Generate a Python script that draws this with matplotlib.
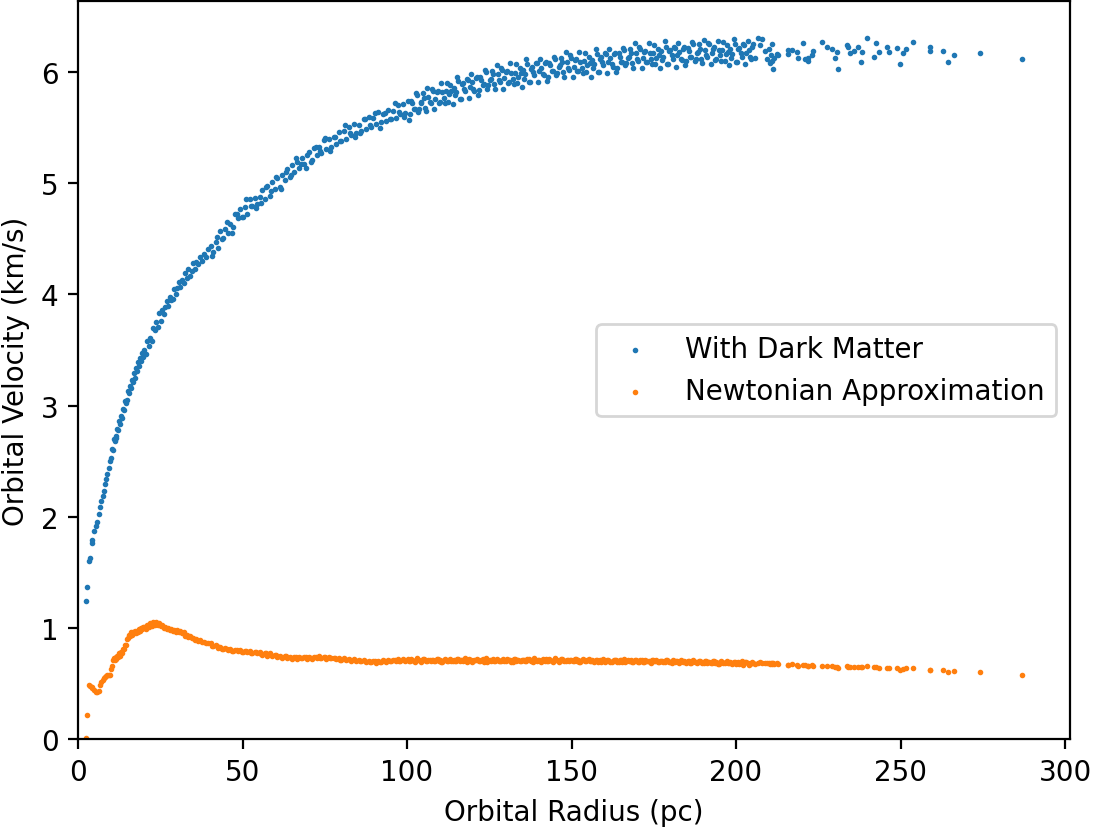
import matplotlib
matplotlib.use("Agg")
import matplotlib.pyplot as plt

# ---- data (radius in pc, velocities in km/s) ----
radius_inner = [2.3, 2.6, 3.4, 3.6, 4.2, 4.4, 5.0, 5.6, 5.9, 6.4,
                6.8, 7.1, 7.5, 7.8, 8.2, 8.6, 8.9, 9.3, 9.6, 9.9]
dark_inner = [1.24, 1.37, 1.60, 1.63, 1.76, 1.79, 1.87, 1.92, 1.95, 2.02,
              2.09, 2.14, 2.19, 2.23, 2.29, 2.34, 2.38, 2.44, 2.50, 2.53]
newton_inner = [0.01, 0.22, 0.49, 0.48, 0.47, 0.46, 0.44, 0.42, 0.42, 0.43,
                0.49, 0.51, 0.53, 0.55, 0.56, 0.57, 0.58, 0.58, 0.58, 0.63]

radius_rise = [10.2, 10.5, 10.8, 11.1, 11.4, 11.7, 12.0, 12.3, 12.6, 12.9,
               13.2, 13.5, 13.8, 14.1, 14.4, 14.7, 15.0, 15.3, 15.6, 15.9,
               16.2, 16.5, 16.8, 17.1, 17.4, 17.7, 18.0, 18.3, 18.6, 18.9,
               19.2, 19.5, 19.8]
dark_rise = [2.61, 2.60, 2.70, 2.68, 2.73, 2.71, 2.79, 2.78, 2.86, 2.83,
             2.91, 2.89, 2.97, 2.96, 3.04, 3.02, 3.05, 3.13, 3.11, 3.18,
             3.16, 3.23, 3.21, 3.29, 3.25, 3.34, 3.31, 3.39, 3.36, 3.43,
             3.40, 3.47, 3.44]
newton_rise = [0.66, 0.71, 0.73, 0.71, 0.74, 0.72, 0.75, 0.74, 0.77, 0.75,
               0.78, 0.77, 0.81, 0.81, 0.85, 0.85, 0.90, 0.91, 0.94, 0.93,
               0.96, 0.94, 0.96, 0.95, 0.97, 0.95, 0.97, 0.96, 0.99, 0.97,
               1.00, 0.99, 1.01]

radius_peak = [20.1, 20.6, 21.0, 21.5, 22.0, 22.4, 22.9, 23.3, 23.8, 24.2,
               24.7, 25.1, 25.6, 26.0, 26.5, 27.0, 27.4, 27.9, 28.3, 28.8,
               29.3, 29.7, 30.2, 30.7, 31.1, 31.6, 32.1, 32.6, 33.0, 33.5,
               34.0, 34.5, 35.0, 35.5, 36.0, 36.6, 37.2, 37.8, 38.4, 39.0,
               39.6]
dark_peak = [3.50, 3.46, 3.58, 3.54, 3.61, 3.58, 3.70, 3.68, 3.75, 3.71,
             3.83, 3.76, 3.86, 3.82, 3.89, 3.94, 3.90, 3.98, 3.95, 3.96,
             4.05, 4.00, 4.06, 4.11, 4.07, 4.13, 4.10, 4.19, 4.15, 4.23,
             4.17, 4.21, 4.28, 4.23, 4.29, 4.27, 4.34, 4.30, 4.36, 4.34,
             4.41]
newton_peak = [1.01, 0.99, 1.03, 1.01, 1.04, 1.02, 1.05, 1.03, 1.05, 1.03,
               1.04, 1.02, 1.03, 1.00, 1.01, 0.99, 1.00, 0.98, 0.99, 0.97,
               0.98, 0.96, 0.98, 0.96, 0.97, 0.95, 0.96, 0.93, 0.94, 0.92,
               0.93, 0.91, 0.91, 0.89, 0.90, 0.88, 0.89, 0.87, 0.87, 0.86,
               0.86]

radius_mid = [40.3, 41.0, 41.8, 42.5, 43.3, 44.0, 44.8, 45.5, 46.3, 47.0,
              47.8, 48.5, 49.3, 50.0, 50.8, 51.5, 52.3, 53.0, 53.8, 54.5,
              55.3, 56.0, 56.8, 57.5, 58.3, 59.0, 59.8, 60.5, 61.3, 62.0,
              62.8, 63.5, 64.3, 65.0, 65.8, 66.5, 67.3, 68.0, 68.8, 69.5,
              70.3, 71.0, 71.8, 72.5, 73.3, 74.0, 74.8, 75.5, 76.3, 77.0,
              77.8, 78.5, 79.3, 80.0, 80.8, 81.5, 82.3, 83.0, 83.8, 84.5,
              85.3, 86.0, 86.8, 87.5, 88.3, 89.0, 89.8, 90.5, 91.3, 92.0,
              92.8, 93.5, 94.3, 95.0, 95.8, 96.5, 97.3, 98.0, 98.8, 99.5]
dark_mid = [4.44, 4.38, 4.47, 4.42, 4.57, 4.51, 4.59, 4.55, 4.63, 4.61,
            4.72, 4.69, 4.77, 4.70, 4.79, 4.72, 4.86, 4.80, 4.87, 4.81,
            4.88, 4.94, 4.86, 4.98, 4.89, 5.01, 4.95, 5.05, 4.97, 5.07,
            5.03, 5.13, 5.06, 5.16, 5.10, 5.19, 5.14, 5.23, 5.17, 5.25,
            5.28, 5.21, 5.32, 5.25, 5.33, 5.27, 5.39, 5.31, 5.40, 5.33,
            5.42, 5.35, 5.46, 5.38, 5.47, 5.40, 5.51, 5.43, 5.53, 5.45,
            5.52, 5.47, 5.58, 5.49, 5.60, 5.51, 5.59, 5.53, 5.64, 5.55,
            5.62, 5.56, 5.66, 5.58, 5.65, 5.59, 5.70, 5.62, 5.71, 5.63]
newton_mid = [0.86, 0.84, 0.85, 0.82, 0.83, 0.81, 0.82, 0.80, 0.81, 0.79,
              0.80, 0.79, 0.80, 0.78, 0.79, 0.78, 0.79, 0.77, 0.78, 0.77,
              0.78, 0.76, 0.77, 0.75, 0.77, 0.75, 0.76, 0.74, 0.75, 0.73,
              0.75, 0.73, 0.74, 0.72, 0.74, 0.72, 0.74, 0.73, 0.74, 0.72,
              0.74, 0.72, 0.74, 0.73, 0.75, 0.73, 0.74, 0.72, 0.74, 0.73,
              0.73, 0.72, 0.73, 0.71, 0.73, 0.71, 0.72, 0.70, 0.72, 0.70,
              0.71, 0.70, 0.71, 0.69, 0.70, 0.69, 0.70, 0.68, 0.70, 0.69,
              0.71, 0.69, 0.71, 0.70, 0.71, 0.70, 0.72, 0.70, 0.72, 0.70]

radius_mid2 = [40.7, 42.2, 43.7, 45.2, 46.7, 48.2, 49.7, 51.2, 52.7, 54.2,
               55.7, 57.2, 58.7, 60.2, 61.7, 63.2, 64.7, 66.2, 67.7, 69.2,
               70.7, 72.2, 73.7, 75.2, 76.7, 78.2, 79.7, 81.2, 82.7, 84.2,
               85.7, 87.2, 88.7, 90.2, 91.7, 93.2, 94.7, 96.2, 97.7, 99.2]
dark_mid2 = [4.35, 4.52, 4.50, 4.65, 4.55, 4.72, 4.70, 4.86, 4.80, 4.78,
             4.82, 4.97, 4.93, 5.06, 4.95, 5.10, 5.07, 5.23, 5.17, 5.14,
             5.19, 5.33, 5.29, 5.41, 5.29, 5.42, 5.38, 5.52, 5.45, 5.42,
             5.45, 5.58, 5.52, 5.63, 5.50, 5.63, 5.58, 5.72, 5.64, 5.60]
newton_mid2 = [0.84, 0.835, 0.81, 0.81, 0.795, 0.80, 0.785, 0.79, 0.775, 0.78,
               0.765, 0.77, 0.755, 0.755, 0.74, 0.745, 0.73, 0.735, 0.725, 0.735,
               0.725, 0.735, 0.73, 0.74, 0.725, 0.73, 0.715, 0.72, 0.71, 0.715,
               0.70, 0.705, 0.695, 0.70, 0.695, 0.705, 0.70, 0.71, 0.705, 0.715]

radius_outer = [100.2, 100.9, 101.6, 102.3, 103.0, 103.7, 104.4, 105.1, 105.8, 106.5,
                107.2, 107.9, 108.6, 109.3, 110.0, 110.7, 111.4, 112.1, 112.8, 113.5,
                114.2, 114.9, 115.6, 116.3, 117.0, 117.7, 118.4, 119.1, 119.8, 120.5,
                121.2, 121.9, 122.6, 123.3, 124.0, 124.7, 125.4, 126.1, 126.8, 127.5,
                128.2, 128.9, 129.6, 130.3, 131.0, 131.7, 132.4, 133.1, 133.8, 134.5,
                135.2, 135.9, 136.6, 137.3, 138.0, 138.7, 139.4, 140.1, 140.8, 141.5,
                142.2, 142.9, 143.6, 144.3, 145.0, 145.7, 146.4, 147.1, 147.8, 148.5,
                149.2, 149.9, 150.6, 151.3, 152.0, 152.7, 153.4, 154.1, 154.8, 155.5,
                156.2, 156.9, 157.6, 158.3, 159.0, 159.7, 160.4, 161.1, 161.8, 162.5,
                163.2, 163.9, 164.6, 165.3, 166.0, 166.7, 167.4, 168.1, 168.8, 169.5,
                170.2, 170.9, 171.6, 172.3, 173.0, 173.7, 174.4, 175.1, 175.8, 176.5,
                177.2, 177.9, 178.6, 179.3, 180.0, 180.7, 181.4, 182.1, 182.8, 183.5,
                184.2, 184.9, 185.6, 186.3, 187.0, 187.7, 188.4, 189.1, 189.8, 190.5,
                191.2, 191.9, 192.6, 193.3, 194.0, 194.7, 195.4, 196.1, 196.8, 197.5,
                198.2, 198.9, 199.6, 200.3, 201.0, 201.7, 202.4, 203.1, 203.8, 204.5,
                205.2, 205.9, 206.6]
dark_outer = [5.74, 5.62, 5.72, 5.67, 5.79, 5.67, 5.73, 5.77, 5.65, 5.78,
              5.72, 5.83, 5.76, 5.83, 5.73, 5.82, 5.72, 5.90, 5.80, 5.83,
              5.86, 5.82, 5.92, 5.76, 5.90, 5.83, 5.93, 5.87, 5.91, 5.83,
              5.96, 5.84, 5.93, 5.89, 6.00, 5.88, 5.94, 5.98, 5.85, 5.98,
              5.91, 6.02, 5.95, 6.01, 5.91, 5.99, 5.89, 6.07, 5.96, 5.99,
              6.02, 5.98, 6.07, 5.91, 6.05, 5.97, 6.08, 6.01, 6.04, 5.97,
              6.09, 5.96, 6.06, 6.01, 6.12, 5.99, 6.06, 6.09, 5.96, 6.09,
              6.02, 6.13, 6.05, 6.12, 6.01, 6.09, 5.99, 6.17, 6.06, 6.08,
              6.11, 6.07, 6.16, 6.00, 6.14, 6.06, 6.16, 6.09, 6.13, 6.05,
              6.17, 6.04, 6.14, 6.09, 6.20, 6.08, 6.14, 6.17, 6.04, 6.17,
              6.10, 6.21, 6.13, 6.19, 6.09, 6.17, 6.07, 6.24, 6.13, 6.15,
              6.19, 6.14, 6.23, 6.07, 6.20, 6.12, 6.22, 6.15, 6.18, 6.11,
              6.23, 6.10, 6.19, 6.14, 6.25, 6.12, 6.18, 6.21, 6.08, 6.20,
              6.14, 6.25, 6.17, 6.23, 6.12, 6.20, 6.10, 6.27, 6.16, 6.18,
              6.21, 6.16, 6.25, 6.09, 6.22, 6.14, 6.24, 6.17, 6.20, 6.12,
              6.25, 6.13, 6.31]
newton_outer = [0.72, 0.70, 0.715, 0.695, 0.725, 0.71, 0.705, 0.72, 0.70, 0.715,
                0.705, 0.715, 0.70, 0.72, 0.71, 0.695, 0.72, 0.705, 0.715, 0.70,
                0.715, 0.70, 0.72, 0.71, 0.70, 0.725, 0.705, 0.715, 0.695, 0.71,
                0.72, 0.70, 0.715, 0.695, 0.725, 0.71, 0.705, 0.72, 0.70, 0.715,
                0.705, 0.715, 0.70, 0.72, 0.71, 0.695, 0.72, 0.705, 0.715, 0.70,
                0.715, 0.70, 0.72, 0.71, 0.70, 0.725, 0.705, 0.715, 0.695, 0.71,
                0.72, 0.70, 0.715, 0.695, 0.725, 0.71, 0.705, 0.72, 0.70, 0.715,
                0.705, 0.715, 0.70, 0.72, 0.71, 0.695, 0.72, 0.705, 0.715, 0.70,
                0.71, 0.695, 0.715, 0.705, 0.695, 0.72, 0.70, 0.71, 0.69, 0.705,
                0.715, 0.695, 0.71, 0.69, 0.72, 0.705, 0.70, 0.715, 0.695, 0.71,
                0.695, 0.71, 0.69, 0.715, 0.705, 0.69, 0.715, 0.70, 0.71, 0.695,
                0.705, 0.69, 0.71, 0.70, 0.69, 0.715, 0.695, 0.705, 0.685, 0.70,
                0.705, 0.685, 0.70, 0.68, 0.71, 0.695, 0.69, 0.705, 0.685, 0.70,
                0.68, 0.695, 0.68, 0.70, 0.69, 0.675, 0.70, 0.685, 0.695, 0.68,
                0.69, 0.675, 0.695, 0.685, 0.675, 0.70, 0.68, 0.69, 0.67, 0.685,
                0.685, 0.675, 0.68]

radius_outer2 = [100.6, 101.3, 102.0, 102.7, 103.4, 104.1, 104.8, 105.5, 106.2, 106.9,
                 107.6, 108.3, 109.0, 109.7, 110.4, 111.1, 111.8, 112.5, 113.2, 113.9,
                 114.6, 115.3, 116.0, 116.7, 117.4, 118.1, 118.8, 119.5, 120.2, 120.9,
                 121.6, 122.3, 123.0, 123.7, 124.4, 125.1, 125.8, 126.5, 127.2, 127.9,
                 128.6, 129.3, 130.0, 130.7, 131.4, 132.1, 132.8, 133.5, 134.2, 134.9,
                 135.6, 136.3, 137.0, 137.7, 138.4, 139.1, 139.8, 140.5, 141.2, 141.9,
                 142.6, 143.3, 144.0, 144.7, 145.4, 146.1, 146.8, 147.5, 148.2, 148.9,
                 149.6, 150.3, 151.0, 151.7, 152.4, 153.1, 153.8, 154.5, 155.2, 155.9,
                 156.6, 157.3, 158.0, 158.7, 159.4, 160.1, 160.8, 161.5, 162.2, 162.9,
                 163.6, 164.3, 165.0, 165.7, 166.4, 167.1, 167.8, 168.5, 169.2, 169.9,
                 170.6, 171.3, 172.0, 172.7, 173.4, 174.1, 174.8, 175.5, 176.2, 176.9,
                 177.6, 178.3, 179.0, 179.7, 180.4, 181.1, 181.8, 182.5, 183.2, 183.9,
                 184.6, 185.3, 186.0, 186.7, 187.4, 188.1, 188.8, 189.5, 190.2, 190.9,
                 191.6, 192.3, 193.0, 193.7, 194.4, 195.1, 195.8, 196.5, 197.2, 197.9,
                 198.6, 199.3, 200.0, 200.7, 201.4, 202.1, 202.8, 203.5, 204.2, 204.9]
dark_outer2 = [5.57, 5.74, 5.67, 5.81, 5.64, 5.72, 5.81, 5.68, 5.86, 5.73,
               5.85, 5.67, 5.82, 5.72, 5.90, 5.77, 5.83, 5.73, 5.88, 5.71,
               5.79, 5.96, 5.76, 5.89, 5.85, 5.94, 5.77, 5.98, 5.85, 5.95,
               5.79, 5.96, 5.88, 6.02, 5.85, 5.93, 6.01, 5.89, 6.06, 5.93,
               6.04, 5.85, 6.00, 5.90, 6.08, 5.94, 5.99, 5.90, 6.04, 5.87,
               5.94, 6.12, 5.91, 6.03, 6.00, 6.08, 5.91, 6.12, 5.98, 6.08,
               5.92, 6.08, 6.01, 6.14, 5.97, 6.05, 6.13, 6.00, 6.18, 6.04,
               6.15, 5.96, 6.11, 6.01, 6.18, 6.04, 6.10, 6.00, 6.14, 5.96,
               6.04, 6.21, 6.00, 6.12, 6.09, 6.17, 5.99, 6.21, 6.07, 6.16,
               6.00, 6.17, 6.09, 6.22, 6.06, 6.13, 6.21, 6.08, 6.26, 6.12,
               6.23, 6.04, 6.18, 6.09, 6.26, 6.12, 6.17, 6.07, 6.21, 6.04,
               6.11, 6.28, 6.07, 6.19, 6.15, 6.23, 6.05, 6.26, 6.12, 6.21,
               6.06, 6.22, 6.14, 6.27, 6.10, 6.17, 6.25, 6.12, 6.29, 6.15,
               6.26, 6.07, 6.21, 6.11, 6.28, 6.15, 6.20, 6.10, 6.24, 6.06,
               6.13, 6.30, 6.09, 6.21, 6.17, 6.25, 6.07, 6.28, 6.14, 6.23]
newton_outer2 = [0.705, 0.72, 0.70, 0.715, 0.71, 0.695, 0.72, 0.71, 0.70, 0.715,
                 0.715, 0.70, 0.72, 0.705, 0.695, 0.715, 0.71, 0.70, 0.72, 0.705,
                 0.705, 0.72, 0.70, 0.715, 0.71, 0.695, 0.72, 0.71, 0.70, 0.715,
                 0.715, 0.70, 0.72, 0.705, 0.695, 0.715, 0.71, 0.70, 0.72, 0.705,
                 0.705, 0.72, 0.70, 0.715, 0.71, 0.695, 0.72, 0.71, 0.70, 0.715,
                 0.715, 0.70, 0.72, 0.705, 0.695, 0.715, 0.71, 0.70, 0.72, 0.705,
                 0.705, 0.72, 0.70, 0.715, 0.71, 0.695, 0.72, 0.71, 0.70, 0.715,
                 0.715, 0.70, 0.72, 0.705, 0.695, 0.715, 0.71, 0.70, 0.72, 0.705,
                 0.70, 0.715, 0.695, 0.71, 0.705, 0.69, 0.715, 0.705, 0.695, 0.71,
                 0.71, 0.695, 0.715, 0.70, 0.69, 0.71, 0.705, 0.695, 0.715, 0.70,
                 0.695, 0.71, 0.69, 0.705, 0.70, 0.685, 0.71, 0.70, 0.69, 0.705,
                 0.705, 0.69, 0.71, 0.695, 0.685, 0.705, 0.70, 0.69, 0.71, 0.695,
                 0.69, 0.705, 0.685, 0.70, 0.695, 0.68, 0.705, 0.695, 0.685, 0.70,
                 0.695, 0.68, 0.70, 0.685, 0.675, 0.695, 0.69, 0.68, 0.70, 0.685,
                 0.68, 0.695, 0.675, 0.69, 0.685, 0.67, 0.69, 0.68, 0.675, 0.69]

radius_far = [207.3, 207.8, 208.8, 209.3, 210.0, 210.3, 210.6, 210.8, 211.0, 211.3,
              211.6, 212.3, 212.9, 215.7, 215.9, 216.9, 218.4, 218.9, 220.2, 221.0,
              221.8, 222.0, 223.0, 223.5, 226.0, 227.5, 229.1, 230.1, 230.8, 230.9,
              233.6, 234.1, 234.6, 235.7, 237.2, 237.9, 238.2, 239.7, 242.0, 242.4,
              243.5, 245.8, 246.5, 248.8, 249.8, 250.6, 251.6, 253.7, 258.8, 259.0,
              262.8, 264.3, 266.1, 274.0, 286.8]
dark_far = [6.24, 6.30, 6.19, 6.12, 6.21, 6.08, 6.15, 6.25, 6.10, 6.03,
            6.13, 6.16, 6.15, 6.16, 6.20, 6.20, 6.18, 6.13, 6.26, 6.12,
            6.13, 6.10, 6.15, 6.19, 6.27, 6.23, 6.21, 6.13, 6.18, 6.03,
            6.24, 6.23, 6.17, 6.19, 6.23, 6.09, 6.18, 6.31, 6.14, 6.26,
            6.18, 6.23, 6.18, 6.22, 6.07, 6.17, 6.21, 6.27, 6.19, 6.23,
            6.19, 6.09, 6.15, 6.17, 6.12]
newton_far = [0.69, 0.68, 0.685, 0.68, 0.685, 0.675, 0.68, 0.685, 0.675, 0.68,
              0.675, 0.68, 0.675, 0.67, 0.67, 0.675, 0.665, 0.66, 0.67, 0.665,
              0.66, 0.655, 0.665, 0.66, 0.66, 0.66, 0.655, 0.645, 0.65, 0.64,
              0.655, 0.65, 0.65, 0.645, 0.645, 0.65, 0.65, 0.66, 0.645, 0.645,
              0.64, 0.64, 0.635, 0.64, 0.625, 0.63, 0.635, 0.64, 0.62, 0.625,
              0.62, 0.60, 0.61, 0.60, 0.58]

radius = (radius_inner + radius_rise + radius_peak + radius_mid + radius_mid2
          + radius_outer + radius_outer2 + radius_far)
v_dark = (dark_inner + dark_rise + dark_peak + dark_mid + dark_mid2
          + dark_outer + dark_outer2 + dark_far)
v_newton = (newton_inner + newton_rise + newton_peak + newton_mid + newton_mid2
            + newton_outer + newton_outer2 + newton_far)

series_labels = ["With Dark Matter", "Newtonian Approximation"]
x_label = "Orbital Radius (pc)"
y_label = "Orbital Velocity (km/s)"

# ---- figure ----
DPI = 200
W, H = 1095, 829
fig = plt.figure(figsize=(W / DPI, H / DPI), dpi=DPI)
ax = fig.add_axes([78 / W, 1 - 740 / H, (1070 - 78) / W, (740 - 2) / H])

ax.scatter(radius, v_dark, s=1, color="#1f77b4", label=series_labels[0])
ax.scatter(radius, v_newton, s=1, color="#ff7f0e", label=series_labels[1])

ax.set_xlim(0, 301.5)
ax.set_ylim(0, 6.64)
ax.set_xlabel(x_label)
ax.set_ylabel(y_label)
ax.legend(loc="center right")

fig.savefig("out.png", dpi=DPI)
